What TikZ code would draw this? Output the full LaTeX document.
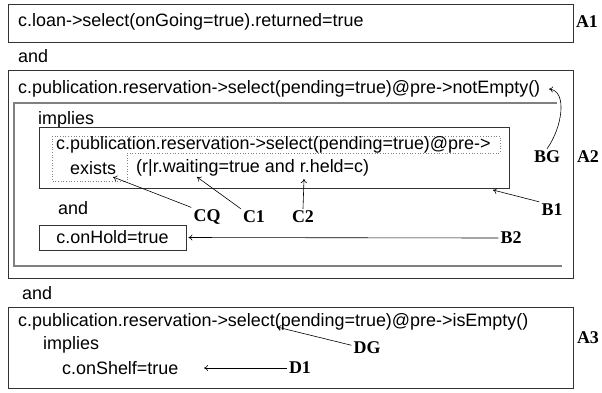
\documentclass[tikz,border=0pt]{standalone}
\usepackage{fontspec}
\setmainfont{Liberation Sans}
\newfontfamily\tagfont{Liberation Serif}
\usetikzlibrary{arrows.meta}

\begin{document}
\begin{tikzpicture}[x=1bp, y=-1bp,
        ocl/.style={anchor=west, inner sep=0pt, font=\fontsize{18}{21}\selectfont},
        tag/.style={inner sep=2bp, font=\fontsize{18}{21}\selectfont\tagfont\bfseries},
        frame/.style={draw=black!80, line width=0.9bp},
        pointer/.style={-{To[length=4bp,width=6bp]}, line width=0.6bp}]
        \useasboundingbox (0,0) rectangle (602,392);
        % Constraint A1
        \draw[frame] (8,4) rectangle (573,42);
        \node[ocl] (loan) at (18,22) {c.loan->select(onGoing=true).returned=true};
        \node[tag] (A1) at (587,22) {A1};
        \node[ocl] (and1) at (18,56) {and};
        % Constraint A2
        \draw[frame] (8,70) rectangle (573,278);
        \node[ocl] (guard1) at (18,89) {c.publication.reservation->select(pending=true)@pre->notEmpty()};
        \draw[gray, line width=1.4bp] (557,103) -- (14,103) -- (14,266) -- (562,266);
        \node[ocl] (impl1) at (38,120) {implies};
        \draw[frame] (39,127) rectangle (509,188);
        \draw[gray, dotted, line width=0.7bp] (52,136) -- (500,136) -- (500,153) -- (127,153) -- (127,181) -- (52,181) -- cycle;
        \node[ocl] (guard2) at (56,145) {c.publication.reservation->select(pending=true)@pre->};
        \node[ocl] (ex) at (70,168) {exists};
        \node[ocl] (body) at (136,168) {(r|r.waiting=true and r.held=c)};
        \node[ocl] (and2) at (58,208) {and};
        \node[frame, minimum width=147bp, minimum height=25bp, inner sep=0pt,
            font=\fontsize{18}{21}\selectfont] (hold) at (112.5,237.5) {c.onHold=true};
        \node[tag] (A2) at (588,157) {A2};
        \node[tag] (BG) at (547,157) {BG};
        \node[tag] (B1) at (552,210) {B1};
        \node[tag] (B2) at (511,238) {B2};
        \node[tag] (CQ) at (207,217) {CQ};
        \node[tag] (C1) at (254,217) {C1};
        \node[tag] (C2) at (303,217) {C2};
        \node[ocl] (and3) at (22,293) {and};
        % Constraint A3
        \draw[frame] (8,307) rectangle (573,388);
        \node[ocl] (guard3) at (18,322) {c.publication.reservation->select(pending=true)@pre->isEmpty()};
        \node[ocl] (impl2) at (43,345) {implies};
        \node[ocl] (shelf) at (62,368) {c.onShelf=true};
        \node[tag] (A3) at (588,338) {A3};
        \node[tag] (DG) at (367,348) {DG};
        \node[tag] (D1) at (300,368) {D1};
        % Arrow targets
        \coordinate (bg-t) at (549,89);
        \coordinate (b1-t) at (493,190);
        \coordinate (cq-t) at (113,177);
        \coordinate (c1-t) at (197,177);
        \coordinate (c2-t) at (304,179);
        \coordinate (dg-t) at (277,327);
        \coordinate (d1-t) at (204,368);
        % Pointers
        \draw[pointer] (BG.north) .. controls (562,128) and (568,91) .. (bg-t);
        \draw[pointer] (B1.north west) -- (b1-t);
        \draw[pointer, shorten >=2bp] (B2.west) -- (hold.east);
        \draw[pointer] (CQ.north west) -- (cq-t);
        \draw[pointer] (C1.north west) -- (c1-t);
        \draw[pointer] (C2.north) -- (c2-t);
        \draw[pointer] (DG.170) -- (dg-t);
        \draw[pointer] (D1.west) -- (d1-t);
    \end{tikzpicture}
\end{document}
